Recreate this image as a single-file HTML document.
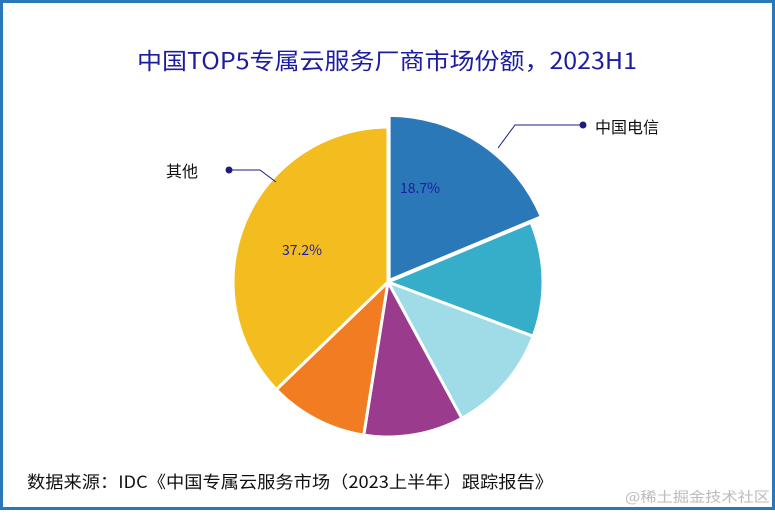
<!DOCTYPE html>
<html><head><meta charset="utf-8"><style>
html,body{margin:0;padding:0;background:#fff}
</style></head><body>
<svg width="775" height="511" xmlns="http://www.w3.org/2000/svg" font-family="'Noto Sans CJK SC','Liberation Sans',sans-serif">
<rect x="1.5" y="1.5" width="772" height="507" fill="#fff" stroke="#2a78b8" stroke-width="3"/>
<text x="137" y="69" font-size="23" fill="#1c1ca0" textLength="500" lengthAdjust="spacingAndGlyphs">中国TOP5专属云服务厂商市场份额，2023H1</text>
<g id="pie"></g>
<polyline points="583,125 515,125 498,148" fill="none" stroke="#1c1c80" stroke-width="1"/>
<circle cx="583" cy="125" r="3.5" fill="#1c1c80"/>
<text x="595" y="133" font-size="16" fill="#111">中国电信</text>
<polyline points="229,170 260,170 276,182" fill="none" stroke="#1c1c80" stroke-width="1"/>
<circle cx="229" cy="170" r="3.5" fill="#1c1c80"/>
<text x="166" y="177" font-size="16" fill="#111">其他</text>
<text x="27" y="488" font-size="17" fill="#111" textLength="526" lengthAdjust="spacingAndGlyphs">数据来源：IDC《中国专属云服务市场（2023上半年）跟踪报告》</text>
<text x="625" y="502" font-size="14" fill="#bbb" textLength="145" lengthAdjust="spacingAndGlyphs">@稀土掘金技术社区</text>
</svg>
<script>
var cx=388,cy=282;
var data=[[18.7,'#2a78b8'],[12.0,'#36adc9'],[11.4,'#a0dbe8'],[10.4,'#9b3b8e'],[10.3,'#f27c22'],[37.2,'#f3bd20']];
var g=document.getElementById('pie'),a=0,ns='http://www.w3.org/2000/svg';
data.forEach(function(d,i){
 var a2=a+d[0]*3.6, m=(a+a2)/2*Math.PI/180, ox=0,oy=0,r=155;
 if(i==0){ox=2*Math.sin(m);oy=-2*Math.cos(m);r=165;}
 var x0=cx+ox,y0=cy+oy;
 function pt(t){t=t*Math.PI/180;return (x0+r*Math.sin(t))+','+(y0-r*Math.cos(t));}
 var p=document.createElementNS(ns,'path');
 p.setAttribute('d','M'+x0+','+y0+'L'+pt(a)+'A'+r+','+r+' 0 '+(a2-a>180?1:0)+' 1 '+pt(a2)+'Z');
 p.setAttribute('fill',d[1]);p.setAttribute('stroke','#fff');p.setAttribute('stroke-width','3');p.setAttribute('stroke-linejoin','round');
 g.appendChild(p);a=a2;
});
function lab(x,y,t){var e=document.createElementNS(ns,'text');e.setAttribute('x',x);e.setAttribute('y',y);e.setAttribute('font-size','14');e.setAttribute('fill','#1c1ca0');e.setAttribute('text-anchor','middle');e.textContent=t;g.appendChild(e);}
lab(420,193,'18.7%');lab(302,255,'37.2%');
</script>
</body></html>
